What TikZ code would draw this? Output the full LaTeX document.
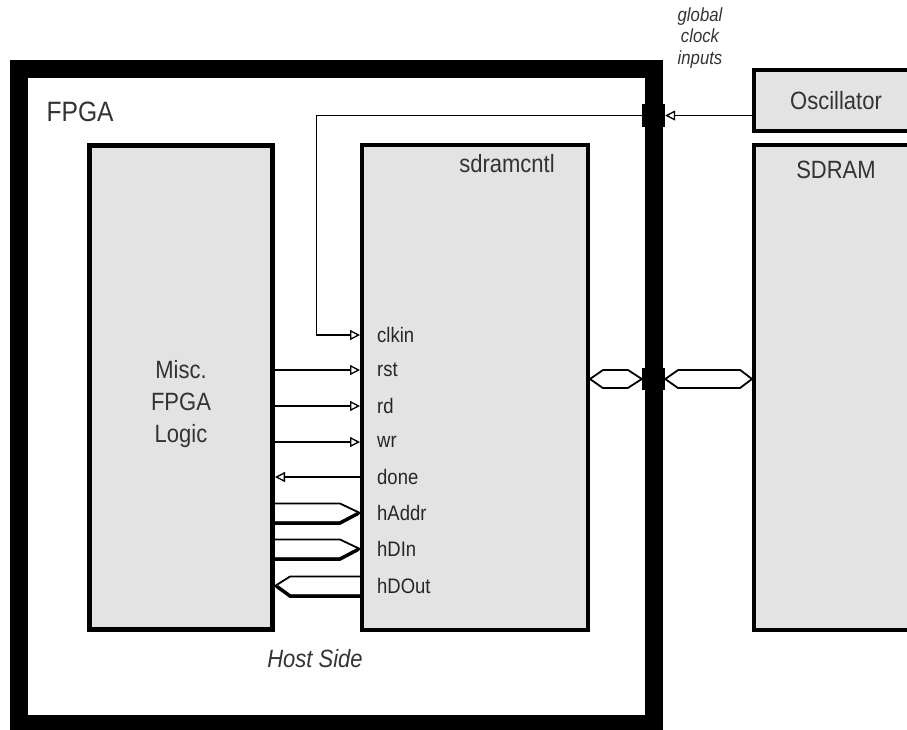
\documentclass[tikz,border=0pt]{standalone}
\usepackage{fontspec}
\setmainfont{Liberation Sans}[FakeStretch=0.88]
\usetikzlibrary{arrows.meta,calc}

\begin{document}
\begin{tikzpicture}[x=1pt,y=-1pt,>={Triangle[open,fill=white,length=10pt,width=10pt]},
  box/.style={draw,fill=black!11,line width=4pt,inner sep=0pt},
  lbl/.style={text=black!80,font=\fontsize{25}{29}\selectfont},
  sig/.style={line width=1.3pt},
  bus/.style={line width=1.8pt,line join=miter},
  pin/.style={anchor=west,inner sep=0pt,text=black!85,font=\fontsize{21}{24}\selectfont},
  pad/.style={fill=black,minimum width=23pt,minimum height=23pt,inner sep=0pt}]
\useasboundingbox (0,0) rectangle (907,729);
\clip (0,0) rectangle (907,729);
% boxes
\node[draw,line width=18pt,minimum width=635pt,minimum height=655pt,inner sep=0pt] (fpga) at (336.5,396.5) {};
\node[box,line width=5pt,minimum width=183pt,minimum height=484pt] (misc) at (181,387.5) {};
\node[box,minimum width=226pt,minimum height=485pt] (ctl) at (475,387.5) {};
\node[box,minimum width=164pt,minimum height=61pt] (osc) at (836,100.5) {};
\node[box,minimum width=164pt,minimum height=485pt] (sdram) at (836,387.5) {};
% labels
\node[lbl,font=\fontsize{28}{32}\selectfont,anchor=west] (fpgalbl) at (43,112) {FPGA};
\node[lbl,align=center,font=\fontsize{25}{32}\selectfont] (misclbl) at (181,404) {Misc.\\FPGA\\Logic};
\node[lbl] (ctllbl) at (507,164) {sdramcntl};
\node[lbl] (osclbl) at (osc) {Oscillator};
\node[lbl] (sdramlbl) at (836,170) {SDRAM};
\node[lbl,font=\itshape\fontsize{25}{29}\selectfont] (host) at (315,659) {Host Side};
\node[lbl,align=center,font=\itshape\fontsize{19}{21.5}\selectfont] (gci) at (700,38) {global\\clock\\inputs};
% pins
\foreach \n/\y in {clkin/335,rst/370,rd/406,wr/442,done/477,hAddr/513,hDIn/549,hDOut/586}
  \node[pin] (\n) at (377,\y) {\n};
% pads
\node[pad] (clkpad) at (653.5,115.5) {};
\node[pad,minimum height=22pt] (buspad) at (653.5,379) {};
% clock
\draw[sig,->] (clkpad -| osc.west) -- (clkpad.east);
\draw[sig,->] (clkpad.west) -- ++(-325,0) |- (clkin -| ctl.west);
% control signals
\foreach \n in {rst,rd,wr}
  \draw[sig,->] (\n -| misc.east) -- (\n -| ctl.west);
\draw[sig,->] (done -| ctl.west) -- (done -| misc.east);
% host buses
\foreach \n in {hAddr,hDIn} {
  \draw[bus] ($(\n -| misc.east)+(0,-9.5)$) -- ($(\n -| ctl.west)+(-20,-9.5)$) -- (\n -| ctl.west)
    -- ($(\n -| ctl.west)+(-20,9.5)$) -- ($(\n -| misc.east)+(0,9.5)$);
  \draw[line width=3.5pt] ($(\n -| misc.east)+(0,10)$) -- ($(\n -| ctl.west)+(-20,10)$) -- ($(\n -| ctl.west)+(-2,0.5)$);
}
\draw[bus] ($(hDOut -| ctl.west)+(0,-9.5)$) -- ($(hDOut -| misc.east)+(15,-9.5)$) -- (hDOut -| misc.east)
  -- ($(hDOut -| misc.east)+(15,9.5)$) -- ($(hDOut -| ctl.west)+(0,9.5)$);
\draw[line width=3.5pt] ($(hDOut -| misc.east)+(2,0.5)$) -- ($(hDOut -| misc.east)+(15,10)$) -- ($(hDOut -| ctl.west)+(0,10)$);
% sdram bus
\draw[bus,fill=white] (ctl.east |- buspad) -- ++(13,-9) -- ++(25,0) -- (buspad.west) -- ++(-14,9) -- ++(-25,0) -- cycle;
\draw[bus,fill=white] (buspad.east) -- ++(13,-9) -- ++(62,0) -- (sdram.west |- buspad) -- ++(-12,9) -- ++(-62,0) -- cycle;
\end{tikzpicture}
\end{document}
